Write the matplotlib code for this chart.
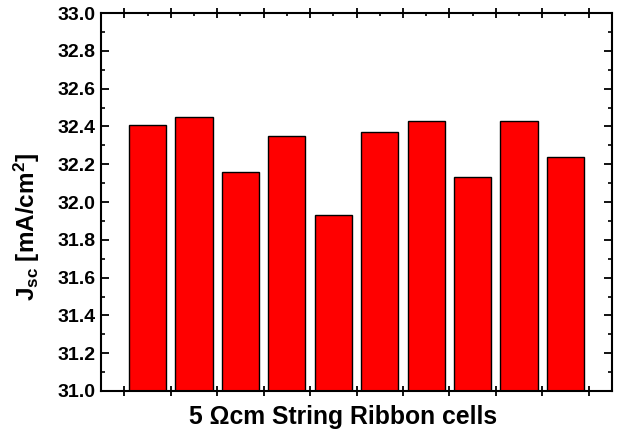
import matplotlib
matplotlib.use("Agg")
import matplotlib.pyplot as plt
from matplotlib.ticker import MultipleLocator, FixedLocator, NullFormatter

plt.rcParams['font.family'] = ['Liberation Sans', 'DejaVu Sans']
plt.rcParams['font.weight'] = 'bold'
plt.rcParams['mathtext.fontset'] = 'custom'
plt.rcParams['mathtext.rm'] = 'Liberation Sans:bold'
plt.rcParams['mathtext.bf'] = 'Liberation Sans:bold'
plt.rcParams['mathtext.default'] = 'bf'

cells = [1, 2, 3, 4, 5, 6, 7, 8, 9, 10]
jsc = [32.41, 32.45, 32.16, 32.35, 31.93, 32.37, 32.43, 32.13, 32.43, 32.24]
xlabel = "5 \u03a9cm String Ribbon cells"
ylabel = r"J$_{\mathbf{sc}}$ [mA/cm$^{\mathbf{2}}$]"

fig = plt.figure(figsize=(6.2, 4.3), dpi=100)
ax = fig.add_axes([0.163, 0.0907, 0.824, 0.879])

bottom = 31.0
ax.bar(cells, [v - bottom for v in jsc], bottom=bottom, width=0.8,
       color='#ff0000', edgecolor='black', linewidth=1.0, zorder=2)

ax.set_xlim(0, 11)
ax.set_ylim(31.0, 33.0)
ax.yaxis.set_major_locator(MultipleLocator(0.2))
ax.yaxis.set_minor_locator(MultipleLocator(0.1))
ax.xaxis.set_major_locator(FixedLocator([i + 0.5 for i in range(11)]))
ax.xaxis.set_minor_locator(FixedLocator(cells))
ax.xaxis.set_major_formatter(NullFormatter())
ax.set_yticklabels([f"{v:.1f}" for v in ax.get_yticks()])

for s in ax.spines.values():
    s.set_linewidth(1.5)

ax.tick_params(axis='y', which='major', direction='in', length=6, width=1.3,
               right=True, labelsize=14, pad=4)
ax.tick_params(axis='y', which='minor', direction='in', length=3, width=1.2, right=True)
ax.tick_params(axis='x', which='major', direction='inout', length=7, width=1.3)
ax.tick_params(axis='x', which='minor', direction='in', length=2.5, width=1.2, top=True)
ax.tick_params(axis='x', which='major', top=True)
for lbl in ax.get_yticklabels():
    lbl.set_fontweight('bold')

ax.set_xlabel(xlabel, fontsize=17.8, fontweight='bold', labelpad=3)
ax.xaxis.label.set_x(0.473)
ax.set_ylabel(ylabel, fontsize=17.5, fontweight='bold')
ax.yaxis.set_label_coords(-0.116, 0.434)

fig.savefig("out.png", dpi=100)
